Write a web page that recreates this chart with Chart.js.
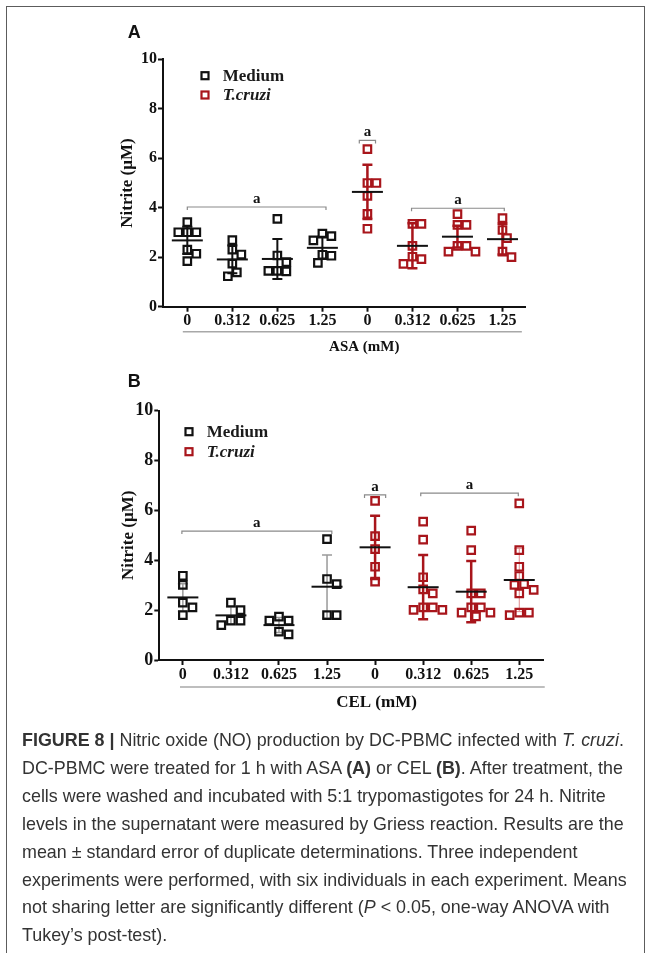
<!DOCTYPE html>
<html>
<head>
<meta charset="utf-8">
<script src="https://cdn.jsdelivr.net/npm/chart.js@4.4.0/dist/chart.umd.min.js"></script>
<style>
  html, body { margin: 0; padding: 0; background: #fff; }
  body { width: 652px; height: 953px; position: relative; overflow: hidden; }
  #frame { position: absolute; left: 6px; top: 6px; width: 637px; height: 980px; border: 1.5px solid #5c5c5c; }
  #chartA { position: absolute; left: 0; top: 0; width: 652px; height: 360px; }
  #chartB { position: absolute; left: 0; top: 360px; width: 652px; height: 370px; }
  #caption { position: absolute; left: 22px; top: 727px; font-family: 'Liberation Sans', Arial, sans-serif;
             font-size: 17.9px; line-height: 27.9px; color: #333; white-space: nowrap; }
</style>
</head>
<body>
<div id="frame"></div>
<canvas id="chartA" width="652" height="360"></canvas>
<canvas id="chartB" width="652" height="370"></canvas>
<div id="caption">
  <div><b>FIGURE 8 |</b> Nitric oxide (NO) production by DC-PBMC infected with <i>T. cruzi</i>.</div>
  <div>DC-PBMC were treated for 1 h with ASA <b>(A)</b> or CEL <b>(B)</b>. After treatment, the</div>
  <div>cells were washed and incubated with 5:1 trypomastigotes for 24 h. Nitrite</div>
  <div>levels in the supernatant were measured by Griess reaction. Results are the</div>
  <div>mean ± standard error of duplicate determinations. Three independent</div>
  <div>experiments were performed, with six individuals in each experiment. Means</div>
  <div>not sharing letter are significantly different (<i>P</i> &lt; 0.05, one-way ANOVA with</div>
  <div>Tukey’s post-test).</div>
</div>
<script>
// x categories (doses) and y ticks
const doses = ['0', '0.312', '0.625', '1.25', '0', '0.312', '0.625', '1.25'];
const yTicks = [0, 2, 4, 6, 8, 10];

// Panel A - ASA: individual points per dose
const asaMedium = [
  [3.42, 3.01, 3.01, 3.01, 2.31, 2.14, 1.84],
  [2.69, 2.31, 2.11, 1.74, 1.39, 1.23],
  [3.55, 2.07, 1.80, 1.45, 1.43, 1.45],
  [2.95, 2.85, 2.68, 2.10, 2.06, 1.77]
];
const asaTcruzi = [
  [6.37, 5.00, 5.00, 4.48, 3.75, 3.15],
  [3.35, 3.35, 2.46, 2.02, 1.92, 1.73],
  [3.74, 3.31, 3.31, 2.46, 2.46, 2.23, 2.23],
  [3.58, 3.10, 2.77, 2.23, 2.00]
];
const asaMean = [2.68, 1.91, 1.93, 2.38, 4.64, 2.46, 2.83, 2.73];
const asaErr = [0.55, 0.56, 0.81, 0.45, 1.10, 0.91, 0.44, 0.62];
const asaLetters = [[0, 3.08, 4.03], [3.82, 4.18, 6.72], [4.98, 7.04, 3.98]];

// Panel B - CEL
const celMedium = [
  [3.38, 3.01, 2.30, 2.11, 1.80],
  [2.30, 2.00, 1.58, 1.58, 1.40],
  [1.74, 1.58, 1.58, 1.14, 1.03],
  [4.85, 3.25, 3.04, 1.80, 1.80]
];
const celTcruzi = [
  [6.38, 4.97, 4.45, 3.74, 3.14],
  [5.55, 4.83, 3.32, 2.83, 2.67, 2.11, 2.11, 2.01, 2.01],
  [5.19, 4.41, 2.67, 2.67, 2.11, 2.11, 1.90, 1.90, 1.75],
  [6.28, 4.41, 3.74, 3.37, 3.04, 3.01, 2.81, 2.67, 1.90, 1.90, 1.80]
];
const celMean = [2.51, 1.79, 1.40, 2.94, 4.52, 2.92, 2.74, 3.21];
const celErr = [0.55, 0.35, 0.30, 1.27, 1.27, 1.29, 1.23, 1.27];
const celLetters = [[-0.02, 3.1, 5.17], [3.78, 4.22, 6.62], [4.95, 6.98, 6.69]];

const BLACK = '#111111';
const RED = '#a8151b';
const SERIF = "'Liberation Serif', 'Times New Roman', serif";

// spread points that sit at the same height side by side (scatter dot plot)
function swarm(values, center) {
  const step = 0.2, thr = 0.36, placed = [];
  const cands = [0, 0.5, -0.5, 1, -1, 1.5, -1.5, 2, -2, 2.5, -2.5, 3, -3];
  return values.map(v => {
    const k = cands.find(c => placed.every(p => Math.hypot(p.k - c, (p.v - v) / thr) >= 1)) || 0;
    placed.push({ k, v });
    return { x: center + k * step, y: v };
  });
}

function toPoints(groups, first) {
  return groups.flatMap((vals, i) => swarm(vals, first + i));
}

function marks(s) {
  return {
    id: 'marks',
    beforeDatasetsDraw(chart) {
      const { ctx, scales: { x, y } } = chart;
      ctx.save();
      s.means.forEach((m, i) => {
        const st = s.barStyle[i];
        const px = x.getPixelForValue(i);
        const t = y.getPixelForValue(m + s.errs[i]);
        const b = y.getPixelForValue(m - s.errs[i]);
        ctx.strokeStyle = st[0];
        ctx.lineWidth = st[1];
        ctx.beginPath();
        ctx.moveTo(px, t); ctx.lineTo(px, b);
        ctx.moveTo(px - 5, t); ctx.lineTo(px + 5, t);
        ctx.moveTo(px - 5, b); ctx.lineTo(px + 5, b);
        ctx.stroke();
      });
      ctx.restore();
    },
    afterDatasetsDraw(chart) {
      const { ctx, scales: { x, y } } = chart;
      ctx.save();
      // mean lines
      ctx.strokeStyle = BLACK;
      ctx.lineWidth = 2;
      s.means.forEach((m, i) => {
        const px = x.getPixelForValue(i), py = y.getPixelForValue(m);
        ctx.beginPath();
        ctx.moveTo(px - 15.5, py); ctx.lineTo(px + 15.5, py);
        ctx.stroke();
      });
      // significance brackets
      ctx.textAlign = 'center';
      ctx.textBaseline = 'middle';
      s.letters.forEach(([a, b, v]) => {
        const x1 = x.getPixelForValue(a), x2 = x.getPixelForValue(b), py = y.getPixelForValue(v);
        ctx.strokeStyle = '#8a8a8a';
        ctx.lineWidth = 1.2;
        ctx.beginPath();
        ctx.moveTo(x1, py + 3); ctx.lineTo(x1, py); ctx.lineTo(x2, py); ctx.lineTo(x2, py + 3);
        ctx.stroke();
        ctx.fillStyle = BLACK;
        ctx.font = 'bold 15px ' + SERIF;
        ctx.fillText('a', (x1 + x2) / 2, py - 8);
      });
      // grey line under the dose labels and the axis title
      const base = chart.chartArea.bottom;
      ctx.strokeStyle = '#a8a8a8';
      ctx.lineWidth = 1.5;
      ctx.beginPath();
      ctx.moveTo(x.getPixelForValue(s.groupLine[0]), base + s.groupLine[2]);
      ctx.lineTo(x.getPixelForValue(s.groupLine[1]), base + s.groupLine[2]);
      ctx.stroke();
      ctx.fillStyle = BLACK;
      ctx.font = 'bold ' + s.axisTitle.size + 'px ' + SERIF;
      ctx.fillText(s.axisTitle.text, x.getPixelForValue(s.axisTitle.at), base + s.axisTitle.offset);
      // legend
      const lg = s.legend;
      [['Medium', BLACK, 'bold '], ['T.cruzi', RED, 'italic bold ']].forEach(([name, col, f], k) => {
        const ly = lg.y + k * lg.dy;
        ctx.strokeStyle = col;
        ctx.lineWidth = 2.2;
        ctx.strokeRect(lg.x - 3.5, ly - 3.5, 7, 7);
        ctx.fillStyle = '#1a1a1a';
        ctx.textAlign = 'left';
        ctx.font = f + lg.size + 'px ' + SERIF;
        ctx.fillText(name, lg.textX, ly + 1);
      });
      // panel letter
      ctx.font = "bold 18px 'Liberation Sans', Arial, sans-serif";
      ctx.fillStyle = '#111';
      ctx.textAlign = 'center';
      ctx.fillText(s.panel, s.panelPos[0], s.panelPos[1]);
      ctx.restore();
    }
  };
}

function buildChart(id, s) {
  const ctx = document.getElementById(id).getContext('2d');
  const ds = (label, data, col) => ({
    label, data,
    pointStyle: 'rect', pointRadius: 5.3, pointHoverRadius: 5.3,
    borderColor: col, pointBorderColor: col, pointBorderWidth: 2.2,
    backgroundColor: 'rgba(255,255,255,0)', showLine: false
  });
  return new Chart(ctx, {
    type: 'scatter',
    data: {
      datasets: [
        ds('Medium', toPoints(s.medium, 0), BLACK),
        ds('T.cruzi', toPoints(s.tcruzi, 4), RED)
      ]
    },
    options: {
      responsive: false,
      animation: false,
      events: [],
      layout: { padding: s.padding },
      plugins: { legend: { display: false }, tooltip: { enabled: false } },
      scales: {
        x: {
          type: 'linear', min: s.xMin, max: 7.5,
          afterBuildTicks: sc => { sc.ticks = doses.map((d, i) => ({ value: i })); },
          afterFit: sc => { sc.height = s.xHeight; },
          ticks: {
            callback: v => doses[v], color: BLACK, padding: 0, maxRotation: 0, autoSkip: false,
            font: { family: SERIF, weight: 'bold', size: 16 }
          },
          grid: { drawOnChartArea: false, drawTicks: true, tickLength: 5, tickWidth: 2, tickColor: BLACK },
          border: { color: BLACK, width: 2 }
        },
        y: {
          min: 0, max: 10,
          afterBuildTicks: sc => { sc.ticks = yTicks.map(v => ({ value: v })); },
          afterFit: sc => { sc.width = 50; },
          ticks: { color: BLACK, padding: 1, font: { family: SERIF, weight: 'bold', size: s.yTickSize } },
          grid: { drawOnChartArea: false, drawTicks: true, tickLength: 5, tickWidth: 2, tickColor: BLACK },
          border: { color: BLACK, width: 2 },
          title: {
            display: true, text: 'Nitrite (µM)', color: BLACK,
            font: { family: SERIF, weight: 'bold', size: 17 }, padding: { top: s.titlePad, bottom: 0 }
          }
        }
      }
    },
    plugins: [marks(s)]
  });
}

const redBar = [RED, 2.5];
buildChart('chartA', {
  medium: asaMedium, tcruzi: asaTcruzi, means: asaMean, errs: asaErr, letters: asaLetters,
  barStyle: [[BLACK, 2], [BLACK, 2], [BLACK, 2], [BLACK, 2], redBar, redBar, redBar, redBar],
  padding: { left: 113, right: 127, top: 59.3, bottom: 0.3 },
  xMin: -0.54, xHeight: 53, yTickSize: 16, titlePad: 4.8,
  groupLine: [-0.1, 7.43, 25],
  axisTitle: { text: 'ASA (mM)', at: 3.93, offset: 40, size: 15 },
  legend: { x: 205, y: 75.7, dy: 19.3, textX: 222.7, size: 17 },
  panel: 'A', panelPos: [134.2, 33]
});

buildChart('chartB', {
  medium: celMedium, tcruzi: celTcruzi, means: celMean, errs: celErr, letters: celLetters,
  barStyle: [['#9a9a9a', 1.5], ['#9a9a9a', 1.5], ['#9a9a9a', 1.5], ['#9a9a9a', 1.5], redBar, redBar, redBar, ['#e08a8d', 1]],
  padding: { left: 109.3, right: 108.7, top: 50.7, bottom: 0 },
  xMin: -0.49, xHeight: 70, yTickSize: 18, titlePad: 8.8,
  groupLine: [-0.06, 7.53, 27],
  axisTitle: { text: 'CEL (mM)', at: 4.03, offset: 43, size: 17 },
  legend: { x: 189, y: 71.7, dy: 20, textX: 206.7, size: 17 },
  panel: 'B', panelPos: [134.2, 22]
});
</script>
</body>
</html>
